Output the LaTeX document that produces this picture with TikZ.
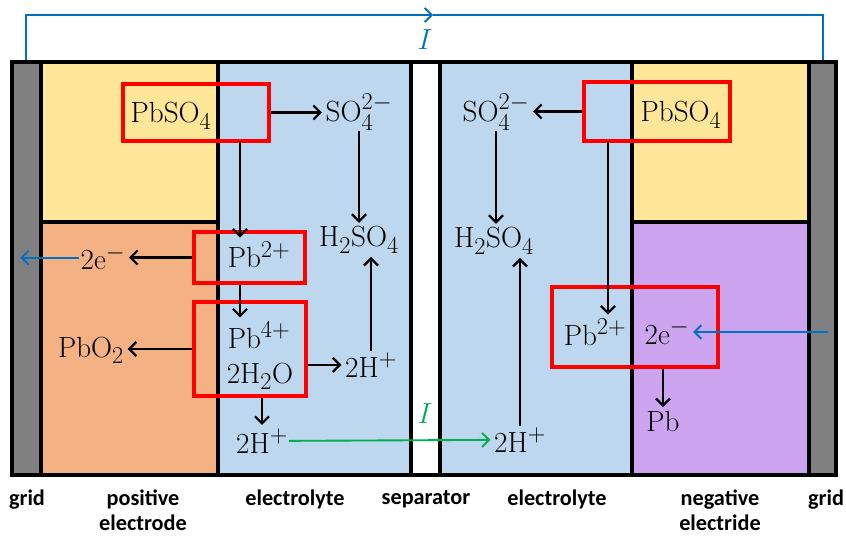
\documentclass[tikz,border=0pt]{standalone}
\usepackage{fontspec}
\newfontfamily\labfont{Carlito}
\usetikzlibrary{arrows.meta}
\definecolor{gridgray}{RGB}{128,128,128}
\definecolor{pbyellow}{RGB}{255,230,153}
\definecolor{elblue}{RGB}{189,215,238}
\definecolor{posorange}{RGB}{244,177,131}
\definecolor{negpurple}{RGB}{204,164,240}
\definecolor{ebblue}{RGB}{0,112,192}
\definecolor{iongreen}{RGB}{0,176,80}
\tikzset{
    wall/.style={line width=2.8pt},
    rbox/.style={draw=red, line width=3.4pt, inner sep=0pt},
    chem/.style={font=\Huge, inner sep=1pt, anchor=base},
    flow/.style={-{Straight Barb[length=6pt,width=12pt]}, line width=1.9pt, shorten >=2pt},
    ecur/.style={flow, draw=ebblue, line width=1.6pt},
    icur/.style={flow, draw=iongreen, line width=1.6pt},
    lab/.style={font=\labfont\bfseries\fontsize{19}{21}\selectfont, align=center, anchor=north, inner sep=0pt}
}
\begin{document}
\begin{tikzpicture}[x=0.03cm, y=-0.03cm]
    \useasboundingbox (0,0) rectangle (846,544);
    % cell regions
    \fill[gridgray] (12,62) rectangle (41,475);
    \fill[pbyellow] (41,62) rectangle (218,222);
    \fill[posorange] (41,222) rectangle (218,475);
    \fill[elblue] (218,62) rectangle (411,475);
    \fill[elblue] (440,62) rectangle (632,475);
    \fill[pbyellow] (632,62) rectangle (809,222);
    \fill[negpurple] (632,222) rectangle (809,475);
    \fill[gridgray] (809,62) rectangle (836,475);
    % outer current
    \coordinate (topL) at (26,62);
    \coordinate (topR) at (823,62);
    \coordinate (topM) at (433,15);
    \draw[ecur, shorten >=0pt] (topL) |- (topM);
    \draw[ebblue, line width=1.6pt] (topM) -| (topR);
    \node[chem, text=ebblue] (iTop) at (425,50) {$I$};
    % walls
    \foreach \x in {41,218,411,440,632,809}
        \draw[wall] (\x,62) -- (\x,475);
    \draw[wall] (41,222) -- (218,222);
    \draw[wall] (632,222) -- (809,222);
    \draw[line width=3.6pt] (12,62) rectangle (836,475);

    \node[chem] (pbsoL) at (171,123) {$\mathrm{PbSO_4}$};
    \node[chem] (so4L) at (359,122) {$\mathrm{SO_4^{2-}}$};
    \node[chem] (h2so4L) at (359,247) {$\mathrm{H_2SO_4}$};
    \node[chem] (pb2L) at (259,268) {$\mathrm{Pb^{2+}}$};
    \node[chem] (e2L) at (103,270) {$\mathrm{2e^-}$};
    \node[chem] (pb4) at (259,348) {$\mathrm{Pb^{4+}}$};
    \node[chem] (h2o) at (260,383) {$\mathrm{2H_2O}$};
    \node[chem] (pbo2) at (91,357) {$\mathrm{PbO_2}$};
    \node[chem] (hpL) at (371,377) {$\mathrm{2H^+}$};
    \node[chem] (hpB) at (262,453) {$\mathrm{2H^+}$};
    \node[chem] (hpR) at (520,452) {$\mathrm{2H^+}$};
    \node[chem] (h2so4R) at (494,248) {$\mathrm{H_2SO_4}$};
    \node[chem] (so4R) at (496,122) {$\mathrm{SO_4^{2-}}$};
    \node[chem] (pbsoR) at (681,122) {$\mathrm{PbSO_4}$};
    \node[chem] (pb2R) at (595,345) {$\mathrm{Pb^{2+}}$};
    \node[chem] (e2R) at (667,344) {$\mathrm{2e^-}$};
    \node[chem] (pb) at (663,431) {$\mathrm{Pb}$};
    \node[chem, text=iongreen] (iMid) at (425,423) {$I$};

    \coordinate (dropL) at (240,141);
    \coordinate (dropR) at (608,141);
    \coordinate (gridL) at (18,260);
    \coordinate (gridR) at (828,332);

    \node[rbox, minimum width=4.38cm, minimum height=1.71cm] (boxL) at (196,112.5) {};
    \node[rbox, minimum width=3.33cm, minimum height=1.53cm] (boxPb2) at (249.5,257.5) {};
    \node[rbox, minimum width=3.36cm, minimum height=2.82cm] (boxPb4) at (250,349) {};
    \node[rbox, minimum width=4.38cm, minimum height=1.77cm] (boxR) at (657,111.5) {};
    \node[rbox, minimum width=4.98cm, minimum height=2.4cm] (boxNeg) at (635,327) {};

    \draw[flow] (boxL.east) -- (boxL.east -| so4L.west);
    \draw[flow] (so4L.south) -- (so4L.south |- h2so4L.north);
    \draw[flow] (dropL) -- (dropL |- pb2L.north);
    \draw[flow] (boxPb2.south -| dropL) -- (dropL |- pb4.north);
    \draw[flow] (boxPb2.west) -- (boxPb2.west -| e2L.east);
    \draw[ecur] (e2L.west) -- (e2L.west -| gridL);
    \draw[flow] (boxPb4.west) -- (boxPb4.west -| pbo2.east);
    \draw[flow] (boxPb4.east |- hpL) -- (hpL.west);
    \draw[flow] (hpL.north) -- (hpL.north |- h2so4L.south);
    \draw[flow] (boxPb4.south -| hpB.north) -- (hpB.north);
    \draw[icur] (hpB.east) -- (hpR.west);
    \draw[flow] (hpR.north) -- (hpR.north |- h2so4R.south);
    \draw[flow] (boxR.west) -- (boxR.west -| so4R.east);
    \draw[flow] (so4R.south) -- (so4R.south |- h2so4R.north);
    \draw[flow] (dropR) -- (dropR |- pb2R.north);
    \draw[ecur] (gridR) -- (gridR -| e2R.east);
    \draw[flow] (boxNeg.south -| pb.north) -- (pb.north);

    \node[lab] (lGridL) at (27,490) {grid};
    \node[lab] (lPos) at (143,490) {positive\\electrode};
    \node[lab] (lEl1) at (295,490) {electrolyte};
    \node[lab] (lSep) at (426,490) {separator};
    \node[lab] (lEl2) at (557,490) {electrolyte};
    \node[lab] (lNeg) at (720,490) {negative\\electride};
    \node[lab] (lGridR) at (826,490) {grid};
\end{tikzpicture}
\end{document}
